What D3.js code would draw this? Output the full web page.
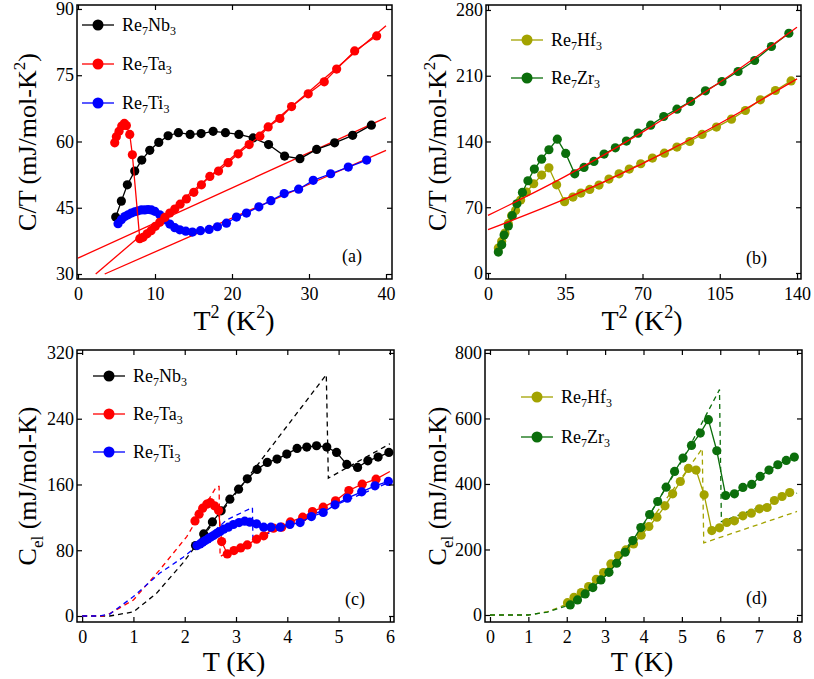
<!DOCTYPE html>
<html><head><meta charset="utf-8">
<script src="https://cdn.jsdelivr.net/npm/d3@7"></script>
<style>body{margin:0;background:#fff}</style>
</head><body><svg id="c" width="814" height="679"></svg>
<script>
// ---- Panel (a): C/T vs T^2
const aNb = [[4.9,42.9],[5.63,46.5],[6.41,50.2],[7.37,53.3],[8.28,55.8],[9.32,58.0],[10.49,59.8],[11.7,61.3],[13.04,62.0],[14.56,61.6],[15.99,61.8],[17.55,62.3],[19.15,62.0],[20.89,61.6],[22.75,60.8],[24.75,59.3],[26.83,56.7],[28.82,56.1],[30.99,58.2],[33.33,59.7],[35.67,61.4],[38.1,63.7]];
const aTa = [[4.77,59.7],[4.98,61.1],[5.33,62.3],[5.68,63.5],[6.02,64.1],[6.28,63.6],[6.72,61.6],[7.06,57.0],[8.02,38.0],[8.45,38.3],[8.97,39.1],[9.49,39.8],[10.05,40.8],[10.62,41.7],[11.27,42.8],[11.92,43.8],[12.57,44.7],[13.26,45.8],[14.08,47.0],[15.04,48.5],[16.03,50.2],[17.12,52.1],[18.25,53.3],[19.5,55.2],[20.8,57.2],[22.23,59.3],[23.62,61.2],[24.7,63.3],[26.22,65.2],[27.74,67.9],[29.9,70.8],[31.98,73.5],[33.59,76.4],[35.93,80.5],[38.79,83.9]];
const aTi = [[5.2,41.4],[5.63,42.3],[6.07,43.0],[6.5,43.4],[6.93,43.8],[7.37,44.1],[7.8,44.3],[8.23,44.5],[8.67,44.5],[9.1,44.6],[9.53,44.5],[9.97,44.2],[10.62,43.4],[11.27,42.3],[11.92,41.3],[12.57,40.5],[13.22,40.0],[14.0,39.7],[14.86,39.5],[15.9,39.8],[17.03,40.1],[18.11,40.7],[19.28,41.5],[20.58,42.9],[21.88,43.8],[23.49,45.2],[25.05,46.6],[26.78,48.2],[28.65,49.2],[30.55,51.2],[32.81,52.7],[35.1,54.2],[37.49,55.8]];
const aFitNb = [[0,33.6],[40,65.4]];
const aFitTa = [[2.3,30],[40,86.2]];
const aFitTi = [[3.47,30],[40,58]];
const aXTicks = [0,10,20,30,40], aYTicks = [30,45,60,75,90];
// ---- Panel (b)
const bHf = [[4.7,26.6],[6.2,33.7],[7.7,42.5],[9.2,52.5],[10.7,61.0],[12.5,66.6],[14.8,77.6],[17.4,86.1],[20.7,95.0],[24.3,104.2],[27.6,112.0],[31.1,93.9],[34.7,75.9],[38.5,80.8],[42.1,85.1],[46.1,89.0],[50.3,93.6],[54.8,100.0],[59.4,105.6],[64.0,110.6],[69.2,116.3],[74.5,122.3],[79.9,127.6],[85.6,134.0],[91.4,140.0],[97.0,147.5],[103.5,155.3],[110.3,163.8],[116.6,173.0],[123.4,184.3],[130.2,194.3],[137.3,204.5]];
const bZr = [[4.7,22.3],[6.2,30.1],[7.3,40.4],[9.2,50.0],[11.0,61.0],[13.1,73.7],[15.6,85.8],[18.1,98.2],[21.0,110.6],[24.3,121.2],[27.6,131.2],[31.4,142.5],[35.2,127.3],[39.3,105.6],[43.5,112.4],[48.0,118.8],[52.6,126.6],[57.7,133.3],[62.7,140.4],[68.0,148.9],[73.7,157.4],[79.6,166.6],[85.6,174.4],[91.8,182.6],[98.5,193.9],[106.0,203.8],[113.3,214.5],[120.8,226.2],[128.4,241.1],[136.3,255.2]];
const bFitHf = [[0,46.1],[35,78.8],[70,116.5],[105,159.1],[140,206.7]];
const bFitZr = [[0,61.3],[35,102.8],[70,150],[105,203],[140,261.6]];
const bXTicks = [0,35,70,105,140], bYTicks = [0,70,140,210,280];
// ---- Panel (c)
const cNb = [[2.21,85.7],[2.37,99.9],[2.54,114.5],[2.71,127.9],[2.88,142.1],[3.05,154.3],[3.22,166.9],[3.41,178.3],[3.61,186.8],[3.8,190.9],[3.99,197.0],[4.19,203.9],[4.38,205.5],[4.57,207.1],[4.77,205.5],[4.96,199.0],[5.16,184.4],[5.37,180.7],[5.57,188.8],[5.77,193.3],[5.98,199.0]];
const cTa = [[2.2,115.7],[2.28,123.9],[2.35,131.2],[2.43,136.0],[2.5,138.1],[2.58,134.0],[2.66,128.3],[2.72,90.6],[2.83,75.5],[2.96,79.6],[3.09,82.8],[3.22,86.5],[3.4,93.4],[3.54,97.5],[3.73,106.8],[3.89,108.0],[4.06,114.5],[4.3,120.2],[4.49,127.1],[4.7,132.4],[4.94,140.1],[5.2,152.7],[5.46,160.4],[5.73,166.5]];
const cTi = [[2.24,85.7],[2.3,87.7],[2.35,89.7],[2.4,91.8],[2.45,93.8],[2.5,95.8],[2.56,97.9],[2.62,100.3],[2.69,102.7],[2.76,105.6],[2.85,108.0],[2.95,111.3],[3.06,113.7],[3.17,115.3],[3.27,114.1],[3.4,112.1],[3.54,108.0],[3.68,108.0],[3.86,108.0],[4.05,111.3],[4.25,113.7],[4.47,121.0],[4.7,125.9],[4.93,135.2],[5.17,143.4],[5.45,151.1],[5.71,158.4],[5.97,163.7]];
const cDashNb = [[0,0],[0.54,0],[1.0,5],[1.45,27.6],[1.97,65],[2.22,85.7],[3.47,188],[4.76,293.6],[4.8,167.7],[6.0,209.5]];
const cDashTa = [[0,0],[0.4,0],[0.54,3],[1.0,19.5],[1.51,56],[2.04,96.6],[2.62,157.6],[2.67,157.6],[2.69,72.3],[2.8,76]];
const cDashTi = [[0,0],[0.34,0],[0.54,2.4],[1.0,23.6],[1.51,52],[1.97,71.5],[2.23,84.5],[2.82,117],[3.32,132],[3.33,92.6],[6.0,163]];
const cSolidTa = [[5.73,166.5],[6.0,175.8]];
const cXTicks = [0,1,2,3,4,5,6], cYTicks = [0,80,160,240,320];
// ---- Panel (d)
const dHf = [[2.02,37.7],[2.19,54.0],[2.38,68.3],[2.57,86.6],[2.77,109.0],[2.96,129.4],[3.15,155.9],[3.35,181.4],[3.54,198.7],[3.74,217.1],[3.94,243.6],[4.14,270.1],[4.35,298.6],[4.56,333.2],[4.76,369.9],[4.96,407.6],[5.17,447.4],[5.37,442.3],[5.58,366.9],[5.78,257.8],[5.98,266.0],[6.17,282.3],[6.37,287.4],[6.59,302.7],[6.81,310.8],[7.02,324.1],[7.22,328.2],[7.41,349.6],[7.61,361.8],[7.81,374.0]];
const dZr = [[2.09,30.6],[2.28,45.9],[2.48,64.2],[2.68,83.6],[2.89,107.0],[3.1,130.4],[3.3,158.0],[3.52,191.6],[3.72,227.3],[3.93,267.0],[4.16,306.8],[4.37,346.5],[4.59,390.3],[4.81,438.2],[5.03,479.0],[5.25,517.7],[5.48,555.4],[5.69,596.2],[5.91,501.4],[6.14,364.8],[6.37,369.9],[6.59,389.3],[6.82,398.5],[7.04,422.9],[7.27,442.3],[7.5,458.6],[7.72,471.8],[7.93,482.0]];
const dDashHf = [[0,0],[1.0,0],[1.5,10],[2,33],[3,128],[4,258],[5,420],[5.53,508],[5.57,220],[8,316]];
const dDashZr = [[0,0],[1.0,0],[1.5,9],[2,28],[3,118],[4,275],[5,470],[5.98,688],[6.03,285],[8,372]];
const dXTicks = [0,1,2,3,4,5,6,7,8], dYTicks = [0,200,400,600,800];

const FONT = "'Liberation Serif','Times New Roman',Times,'DejaVu Serif',serif";
const svg = d3.select("#c");
const BLACK="#000", RED="#ff0000", BLUE="#0000ff", OLIVE="#a3a300", GREEN="#0b6e0b";

function panel(o){
  const x=d3.scaleLinear().domain(o.xd).range([o.l,o.r]);
  const y=d3.scaleLinear().domain(o.yd).range([o.b,o.t]);
  const g=svg.append("g");
  const clip="clip"+o.id;
  g.append("clipPath").attr("id",clip).append("rect").attr("x",o.l).attr("y",o.t).attr("width",o.r-o.l).attr("height",o.b-o.t);
  const inner=g.append("g").attr("clip-path",`url(#${clip})`);
  const line=d3.line().x(d=>x(d[0])).y(d=>y(d[1]));
  (o.fits||[]).forEach(f=>{
    inner.append("path").attr("d",line(f.d)).attr("fill","none")
      .attr("stroke",f.c).attr("stroke-width",1.3).attr("stroke-dasharray",f.dash?"5,4":null);
  });
  o.series.forEach(s=>{
    inner.append("path").attr("d",line(s.d)).attr("fill","none").attr("stroke",s.c).attr("stroke-width",1.3);
    inner.selectAll(null).data(s.d).enter().append("circle").attr("cx",d=>x(d[0])).attr("cy",d=>y(d[1])).attr("r",4.6).attr("fill",s.c);
  });
  const cl=d3.line().x(d=>x(d[0])).y(d=>y(d[1])).curve(d3.curveMonotoneX);
  (o.after||[]).forEach(f=>{
    inner.append("path").attr("d",cl(f.d)).attr("fill","none").attr("stroke",f.c).attr("stroke-width",1.3);
  });
  const fmt=d3.format("");
  const ax=(gen,tr,lab)=>{const a=g.append("g").attr("transform",tr).call(gen);
    a.select(".domain").remove(); a.selectAll("line").attr("stroke","#000").attr("stroke-width",1.2);
    a.selectAll("text").attr("font-size",18).attr("fill","#000");
    if(!lab)a.selectAll("text").remove(); return a;};
  ax(d3.axisBottom(x).tickValues(o.xt).tickFormat(fmt).tickSize(-5).tickPadding(8),`translate(0,${o.b})`,true);
  ax(d3.axisTop(x).tickValues(o.xt).tickSize(-5),`translate(0,${o.t})`,false);
  ax(d3.axisLeft(y).tickValues(o.yt).tickFormat(fmt).tickSize(-5).tickPadding(3),`translate(${o.l},0)`,true);
  ax(d3.axisRight(y).tickValues(o.yt).tickSize(-5),`translate(${o.r},0)`,false);
  g.append("rect").attr("x",o.l).attr("y",o.t).attr("width",o.r-o.l).attr("height",o.b-o.t).attr("fill","none").attr("stroke","#000").attr("stroke-width",1.5);
  o.legend.forEach((L,i)=>{
    const yy=o.ly+i*o.lgap;
    g.append("line").attr("x1",o.lx).attr("x2",o.lx+32).attr("y1",yy).attr("y2",yy).attr("stroke",L.c).attr("stroke-width",1.3);
    g.append("circle").attr("cx",o.lx+16).attr("cy",yy).attr("r",5.5).attr("fill",L.c);
    const t=g.append("text").attr("x",o.lx+40).attr("y",yy+6).attr("font-size",18);
    t.append("tspan").text("Re");t.append("tspan").attr("font-size",12).attr("dy",4).text("7");
    t.append("tspan").attr("dy",-4).text(L.el);t.append("tspan").attr("font-size",12).attr("dy",4).text("3");
  });
  g.append("text").attr("x",o.px).attr("y",o.py).attr("font-size",18).text(o.plab);
  return g;
}

panel({id:"a",l:77,r:392,t:5,b:279,xd:[-0.13,40.78],yd:[28.87,90.9],xt:aXTicks,yt:aYTicks,
  fits:[{d:aFitNb,c:RED},{d:aFitTa,c:RED},{d:aFitTi,c:RED}],
  series:[{d:aNb,c:BLACK},{d:aTi,c:BLUE},{d:aTa,c:RED}],
  legend:[{el:"Nb",c:BLACK},{el:"Ta",c:RED},{el:"Ti",c:BLUE}],lx:82,ly:25,lgap:39,px:342,py:262,plab:"(a)"});
panel({id:"b",l:486,r:801,t:5,b:279,xd:[-0.9,141.8],yd:[-6.4,285.3],xt:bXTicks,yt:bYTicks,
  fits:[],series:[{d:bHf,c:OLIVE},{d:bZr,c:GREEN}],
  after:[{d:bFitHf,c:RED},{d:bFitZr,c:RED}],
  legend:[{el:"Hf",c:OLIVE},{el:"Zr",c:GREEN}],lx:511,ly:40,lgap:38,px:746,py:264,plab:"(b)"});
panel({id:"c",l:77,r:394,t:350,b:622,xd:[-0.1,6.08],yd:[-7.3,323.6],xt:cXTicks,yt:cYTicks,
  fits:[{d:cDashNb,c:BLACK,dash:1},{d:cDashTa,c:RED,dash:1},{d:cDashTi,c:BLUE,dash:1}],
  series:[{d:cNb,c:BLACK},{d:cTa,c:RED},{d:cTi,c:BLUE}],after:[{d:cSolidTa,c:RED}],
  legend:[{el:"Nb",c:BLACK},{el:"Ta",c:RED},{el:"Ti",c:BLUE}],lx:93,ly:376,lgap:38,px:345,py:605,plab:"(c)"});
panel({id:"d",l:485,r:802,t:350,b:622,xd:[-0.13,8.13],yd:[-21.4,809],xt:dXTicks,yt:dYTicks,
  fits:[{d:dDashHf,c:OLIVE,dash:1},{d:dDashZr,c:GREEN,dash:1}],
  series:[{d:dHf,c:OLIVE},{d:dZr,c:GREEN}],
  legend:[{el:"Hf",c:OLIVE},{el:"Zr",c:GREEN}],lx:521,ly:397,lgap:40,px:746,py:604,plab:"(d)"});

let t;
[36,446].forEach(px=>{t=svg.append("text").attr("transform",`translate(${px},142) rotate(-90)`).attr("text-anchor","middle").attr("font-size",26);
  t.append("tspan").text("C/T (mJ/mol-K");t.append("tspan").attr("font-size",17).attr("dy",-11).text("2");t.append("tspan").attr("dy",11).text(")");});
[[234,330],[642,330]].forEach(p=>{t=svg.append("text").attr("x",p[0]).attr("y",p[1]).attr("text-anchor","middle").attr("font-size",28);
  t.append("tspan").text("T");t.append("tspan").attr("font-size",18).attr("dy",-12).text("2");t.append("tspan").attr("dy",12).text(" (K");t.append("tspan").attr("font-size",18).attr("dy",-12).text("2");t.append("tspan").attr("dy",12).text(")");});
[[36,486],[446,486]].forEach(p=>{t=svg.append("text").attr("transform",`translate(${p[0]},${p[1]}) rotate(-90)`).attr("text-anchor","middle").attr("font-size",26);
  t.append("tspan").text("C");t.append("tspan").attr("font-size",17).attr("dy",7).text("el");t.append("tspan").attr("dy",-7).text(" (mJ/mol-K)");});
[[234,671],[642,671]].forEach(p=>{svg.append("text").attr("x",p[0]).attr("y",p[1]).attr("text-anchor","middle").attr("font-size",28).text("T (K)");});
svg.selectAll("g").attr("font-family",null);
svg.selectAll("text").style("font-family",FONT);
</script></body></html>
